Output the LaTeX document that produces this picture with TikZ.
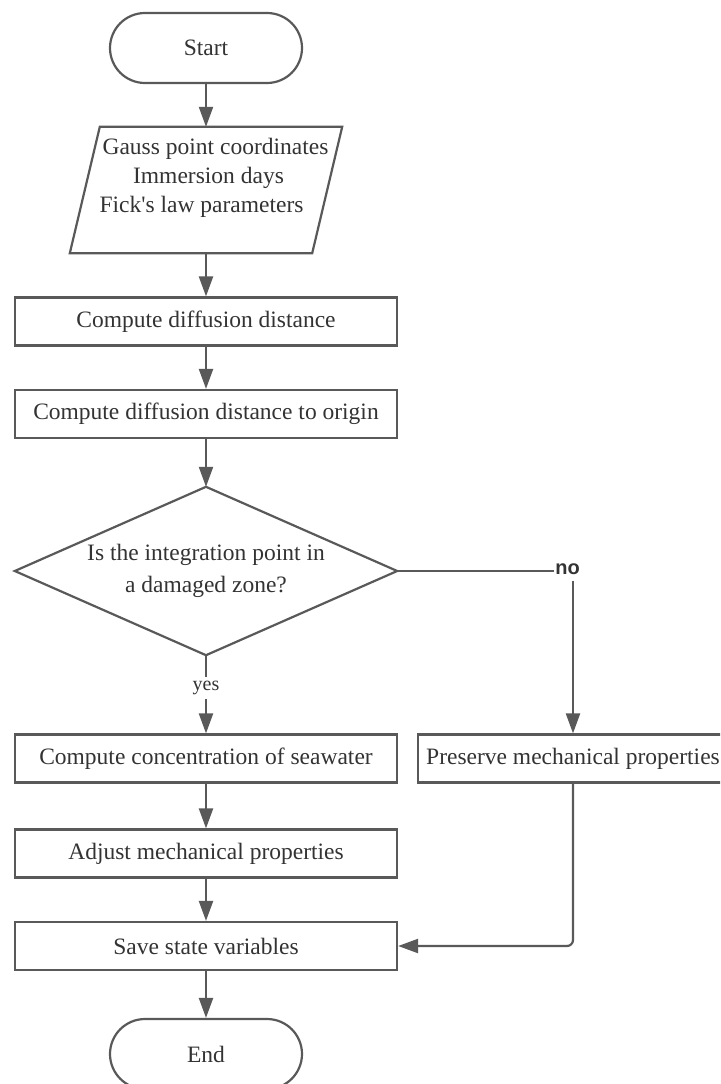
\documentclass[tikz,border=0pt]{standalone}
\usepackage{fontspec}
\setmainfont{Liberation Serif}
\newfontfamily\labelsans{Liberation Sans}
\usetikzlibrary{arrows.meta}
\definecolor{edge}{HTML}{595959}
\definecolor{ink}{HTML}{333333}

\begin{document}
\begin{tikzpicture}[x=1pt,y=-1pt,
  every node/.style={text=ink, font=\fontsize{23.5}{29}\selectfont},
  box/.style={draw=edge, line width=2.2pt, minimum width=382pt, minimum height=48pt, inner sep=0pt},
  term/.style={draw=edge, line width=2.2pt, rounded corners=35pt, minimum width=192pt, minimum height=70pt, inner sep=0pt},
  frame/.style={minimum width=#1, inner sep=0pt},
  flow/.style={draw=edge, line width=2.2pt, -{Triangle[length=20pt, width=14pt]}},
  link/.style={draw=edge, line width=2.2pt},
]
\useasboundingbox (0,0) rectangle (720,1084);
\clip (0,0) rectangle (720,1084);

% terminals and process boxes
\node[term] (start) at (206,48) {Start};

% input parallelogram; each text line is centred on the slanted body
\node[frame=242pt, minimum height=126pt] (inp) at (206,190) {};
\draw[link, line join=miter] ([xshift=15pt]inp.north west) -- ([xshift=15pt]inp.north east)
  -- ([xshift=-15pt]inp.south east) -- ([xshift=-15pt]inp.south west) -- cycle;
\node (inp1) at (215.5,149) {Gauss point coordinates};
\node (inp2) at (208.5,178) {Immersion days};
\node (inp3) at (201.5,207) {Fick\textquotesingle s law parameters};

\node[box] (b1) at (206,321.5) {Compute diffusion distance};
\node[box] (b2) at (206,414) {Compute diffusion distance to origin};

% decision
\node[frame=382pt, minimum height=168pt] (dec) at (206,571) {};
\draw[link, line join=miter] (dec.north) -- (dec.east) -- (dec.south) -- (dec.west) -- cycle;
\node[align=center, font=\fontsize{23.5}{32}\selectfont] (dectext) at (206,571)
  {Is the integration point in\\a damaged zone?};

\node[font=\fontsize{20}{24}\selectfont, inner sep=4pt] (yes) at (206,688) {yes};
\node[font=\labelsans\bfseries\fontsize{20}{22}\selectfont, inner sep=0pt] (no) at (567.5,569) {no};

\node[box] (b3) at (206,758.5) {Compute concentration of seawater};
\node[box] (b4) at (206,853.5) {Adjust mechanical properties};
\node[box] (b5) at (206,946) {Save state variables};
\node[box, minimum width=310pt] (pres) at (573,758.5) {Preserve mechanical properties};
\node[term] (end) at (206,1054) {End};

% connectors
\draw[flow] (start) -- (inp);
\draw[flow] (inp) -- (b1);
\draw[flow] (b1) -- (b2);
\draw[flow] (b2) -- (dec.north);
\draw[link] (dec.south) -- (yes);
\draw[flow] (yes) -- (b3);
\draw[flow] (b3) -- (b4);
\draw[flow] (b4) -- (b5);
\draw[flow] (b5) -- (end);
\draw[link] (dec.east) -- ([xshift=-1pt]dec.east -| no.west);
\draw[flow] ([yshift=-6pt]no.south -| pres.north) -- (pres.north);
\draw[flow, rounded corners=6pt] (pres.south) |- (b5.east);
\end{tikzpicture}
\end{document}
